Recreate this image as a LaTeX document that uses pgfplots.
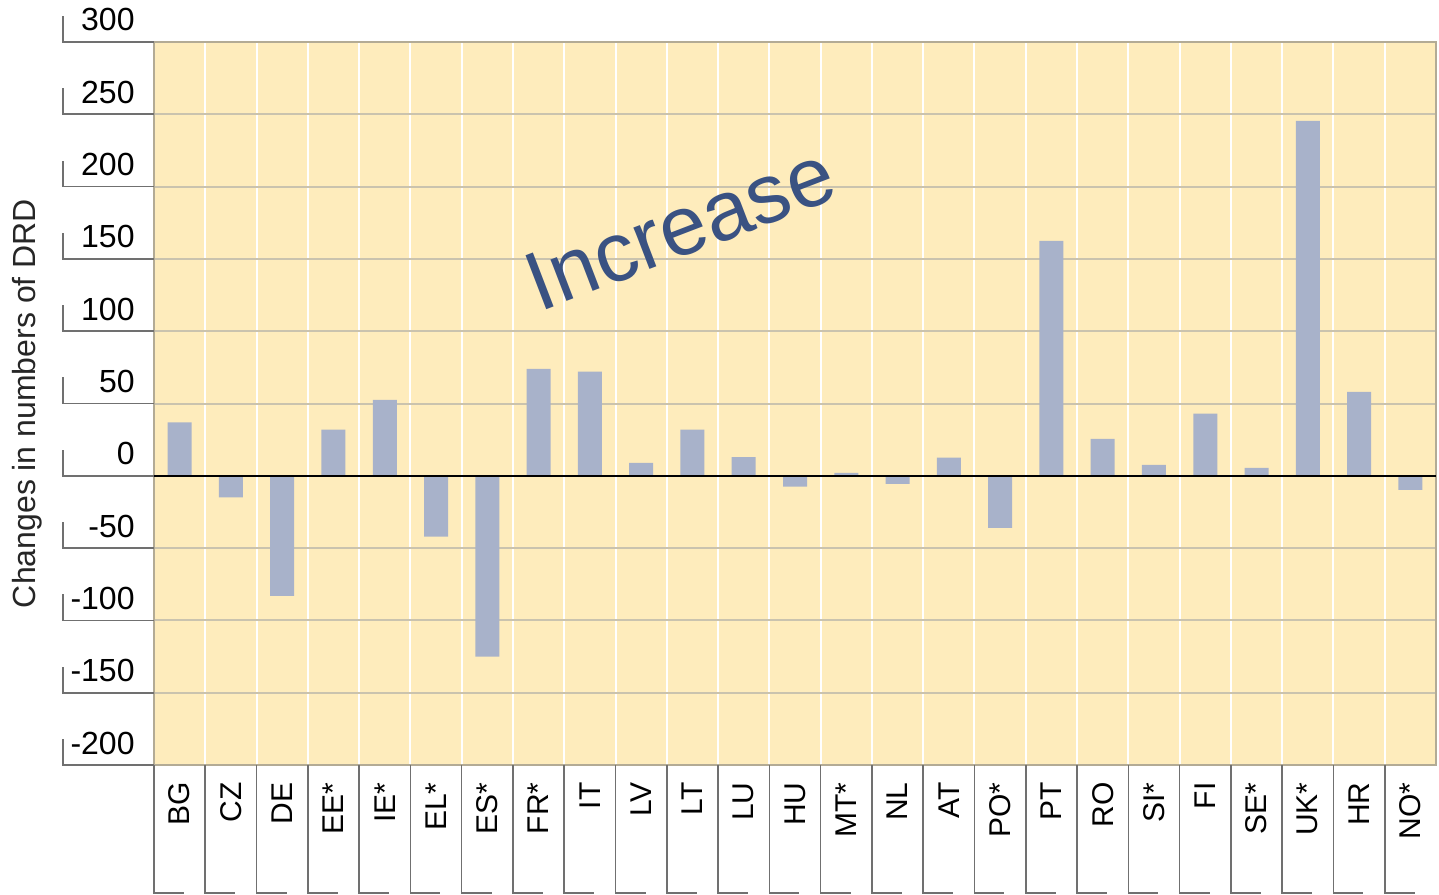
\documentclass[border=0pt]{standalone}
\usepackage{pgfplots}
\pgfplotsset{compat=1.18}
\usepackage{fontspec}
\setmainfont{Liberation Sans}
\definecolor{bg}{HTML}{FEECBC}
\definecolor{barc}{HTML}{A8B2CA}
\definecolor{gridc}{HTML}{CAC3AE}
\definecolor{borderc}{HTML}{B3AB95}
\definecolor{boxc}{HTML}{707070}
\definecolor{incr}{HTML}{3A5282}
\begin{document}
\begin{tikzpicture}
\path[use as bounding box] (-77pt,-64.5pt) rectangle (642.5pt,382.5pt);
\begin{axis}[
  at={(0,0)}, anchor=south west,
  scale only axis, width=641pt, height=361.5pt,
  xmin=-0.5, xmax=24.5, ymin=-200, ymax=300,
  axis background/.style={fill=bg},
  axis line style={draw=borderc, line width=1pt},
  xtick={0,...,24},
  xticklabels={BG,CZ,DE,EE*,IE*,EL*,ES*,FR*,IT,LV,LT,LU,HU,MT*,NL,AT,PO*,PT,RO,SI*,FI,SE*,UK*,HR,NO*},
  xticklabel style={rotate=90, anchor=east, inner sep=0pt, font=\fontsize{15}{18}\selectfont},
  xticklabel shift=8.5pt,
  minor xtick={0.5,1.5,...,23.5},
  xminorgrids, minor x grid style={white, line width=1pt},
  ytick={-200,-150,-100,-50,0,50,100,150,200,250,300},
  yticklabels={-200,-150,-100,-50,0,50,100,150,200,250,300},
  ymajorgrids, y grid style={gridc, line width=1pt},
  yticklabel style={anchor=base east, inner sep=0pt, yshift=5.5pt, font=\fontsize{16}{19}\selectfont},
  yticklabel shift=9.5pt,
  major tick length=0pt, minor tick length=0pt,
  ylabel={Changes in numbers of DRD},
  ylabel style={at={(axis description cs:-0.0991,0.5)}, anchor=center, font=\fontsize{16}{19}\selectfont, text=black!85},
  ybar, bar width=12pt,
  clip=false,
]
\addplot[fill=barc, draw=none] coordinates {
(0,37) (1,-15) (2,-83) (3,32) (4,52.5) (5,-42) (6,-125) (7,74) (8,72) (9,9)
(10,32) (11,13) (12,-7.5) (13,2) (14,-5.5) (15,12.5) (16,-36) (17,162.5) (18,25.5) (19,7.5)
(20,43) (21,5.5) (22,245.5) (23,58) (24,-9.7)};
\draw[black, line width=1.2pt] (axis cs:-0.5,0) -- (axis cs:24.5,0);
\node[rotate=21, text=incr, font=\fontsize{42}{50}\selectfont] at (axis cs:9.76,171.5) {Increase};
\end{axis}
\foreach \k in {0,...,24} \draw[boxc, line width=0.8pt] (\k*25.64pt,0) -- (\k*25.64pt,-64pt) -- ++(15pt,0);
\foreach \v in {0,...,10} \draw[boxc, line width=0.8pt] (0,\v*36.15pt) -- (-45.5pt,\v*36.15pt) -- ++(0,13pt);
\end{tikzpicture}
\end{document}
